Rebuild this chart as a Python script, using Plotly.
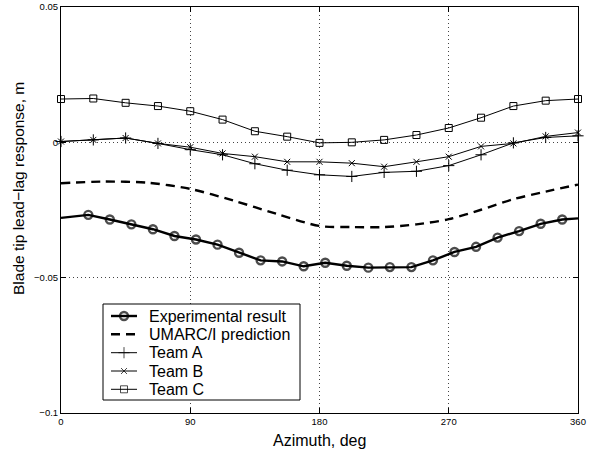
import plotly.graph_objects as go

# ---------------- data ----------------
team_az = [0, 22.5, 45, 67.5, 90, 112.5, 135, 157.5, 180, 202.5, 225, 247.5, 270, 292.5, 315, 337.5, 360]
team_a = [0.0003, 0.0009, 0.0016, -0.0004, -0.0027, -0.0046, -0.0079, -0.0103, -0.0120,
          -0.0126, -0.0111, -0.0107, -0.0086, -0.0046, -0.0002, 0.0018, 0.0024]
team_b = [0.0003, 0.0009, 0.0016, -0.0004, -0.0018, -0.0041, -0.0053, -0.0072, -0.0072,
          -0.0077, -0.0090, -0.0072, -0.0053, -0.0015, -0.0004, 0.0022, 0.0036]
team_c = [0.0160, 0.0162, 0.0146, 0.0134, 0.0115, 0.0084, 0.0041, 0.0021, -0.0002,
          0.0000, 0.0009, 0.0027, 0.0053, 0.0091, 0.0134, 0.0154, 0.0160]

umarc_az = [0, 30, 60, 90, 120, 150, 180, 202.5, 225, 247.5, 270, 292.5, 315, 337.5, 360]
umarc = [-0.0151, -0.0145, -0.0149, -0.0172, -0.0215, -0.0264, -0.0309, -0.0313, -0.0313,
         -0.0303, -0.0284, -0.0249, -0.0210, -0.0182, -0.0156]

exp_az = [0, 19, 34, 49, 64, 79, 94, 109, 124, 139, 154, 169, 184, 199, 214, 229, 244,
          259, 274, 289, 304, 319, 334, 349, 360]
exp_val = [-0.0279, -0.0268, -0.0285, -0.0303, -0.0321, -0.0346, -0.0359, -0.0378, -0.0408,
           -0.0436, -0.0440, -0.0458, -0.0445, -0.0456, -0.0463, -0.0461, -0.0461, -0.0436,
           -0.0405, -0.0386, -0.0352, -0.0328, -0.0301, -0.0285, -0.0281]

x_ticks = [0, 90, 180, 270, 360]
y_ticks = [0.05, 0, -0.05, -0.1]
y_ticklabels = ["0.05", "0", "\u22120.05", "\u22120.1"]

legend_names = ["Experimental result", "UMARC/I prediction", "Team A", "Team B", "Team C"]
x_title = "Azimuth, deg"
y_title = "Blade tip lead\u2212lag response, m"

# ---------------- layout helpers ----------------
W, H = 606, 455
ML, MR, MT, MB = 61, 28, 7, 42
PW, PH = W - ML - MR, H - MT - MB
FONT = "Liberation Sans, Arial, sans-serif"

def px_x(p):
    return (p - ML) / PW

def px_y(p):
    return (H - MB - p) / PH

styles = [
    dict(line=dict(color="black", width=2.4),
         marker=dict(symbol="circle-open", size=8, color="black", line=dict(color="black", width=2.4))),
    dict(line=dict(color="black", width=2.4, dash="9px,6px"), marker=None),
    dict(line=dict(color="black", width=1),
         marker=dict(symbol="cross-thin", size=8, color="black", line=dict(color="black", width=1))),
    dict(line=dict(color="black", width=1),
         marker=dict(symbol="x-thin", size=6, color="black", line=dict(color="black", width=1))),
    dict(line=dict(color="black", width=1),
         marker=dict(symbol="square-open", size=7, color="black", line=dict(color="black", width=1))),
]

fig = go.Figure()

exp_sizes = [0] + [8] * (len(exp_az) - 2) + [0]
m0 = dict(styles[0]["marker"]); m0["size"] = exp_sizes
fig.add_trace(go.Scatter(x=exp_az, y=exp_val, mode="lines+markers", line=styles[0]["line"],
                         marker=m0, showlegend=False, cliponaxis=False))
fig.add_trace(go.Scatter(x=umarc_az, y=umarc, mode="lines",
                         line=dict(styles[1]["line"], shape="spline", smoothing=0.8),
                         showlegend=False))
for vals, st in zip([team_a, team_b, team_c], styles[2:]):
    fig.add_trace(go.Scatter(x=team_az, y=vals, mode="lines+markers", line=st["line"],
                             marker=st["marker"], showlegend=False, cliponaxis=False))

# ---------------- manual legend (MATLAB-style) ----------------
box_l, box_r, box_t, box_b = 103, 300, 304, 400
row_y = [316, 334.3, 352.7, 371, 389.3]
samp_l, samp_r, text_x = 111, 137, 147

fig.add_trace(go.Scatter(
    x=[px_x(box_l), px_x(box_r), px_x(box_r), px_x(box_l), px_x(box_l)],
    y=[px_y(box_t), px_y(box_t), px_y(box_b), px_y(box_b), px_y(box_t)],
    mode="lines", fill="toself", fillcolor="white",
    line=dict(color="black", width=1), xaxis="x2", yaxis="y2",
    showlegend=False, hoverinfo="skip"))
for name, st, ry in zip(legend_names, styles, row_y):
    xs = [px_x(samp_l), px_x((samp_l + samp_r) / 2), px_x(samp_r)]
    ys = [px_y(ry)] * 3
    if st["marker"] is not None:
        mk = dict(st["marker"]); mk["size"] = [0, st["marker"]["size"], 0]
        fig.add_trace(go.Scatter(x=xs, y=ys, mode="lines+markers", line=st["line"], marker=mk,
                                 xaxis="x2", yaxis="y2", showlegend=False, hoverinfo="skip"))
    else:
        fig.add_trace(go.Scatter(x=[xs[0], xs[2]], y=[ys[0], ys[2]], mode="lines", line=st["line"],
                                 xaxis="x2", yaxis="y2", showlegend=False, hoverinfo="skip"))
    fig.add_annotation(x=px_x(text_x), y=px_y(ry), xref="paper", yref="paper",
                       text=name, showarrow=False, xanchor="left", yanchor="middle",
                       font=dict(size=16, family=FONT, color="black"))

# axis titles as annotations for exact placement
fig.add_annotation(x=0.5, y=px_y(440), xref="paper", yref="paper", text=x_title,
                   showarrow=False, xanchor="center", yanchor="middle",
                   font=dict(size=16, family=FONT, color="black"))
fig.add_annotation(x=px_x(18.5), y=px_y(188.5), xref="paper", yref="paper", text=y_title,
                   showarrow=False, xanchor="center", yanchor="middle", textangle=-90,
                   font=dict(size=15.5, family=FONT, color="black"))

axis_common = dict(
    showline=True, linecolor="black", linewidth=1, mirror="ticks",
    ticks="inside", ticklen=5, tickcolor="black",
    showgrid=True, gridcolor="#444444", griddash="1px,3px", gridwidth=1,
    zeroline=False, automargin=False, tickfont=dict(size=9.5),
)

fig.update_layout(
    width=W, height=H,
    margin=dict(l=ML, r=MR, t=MT, b=MB),
    paper_bgcolor="white", plot_bgcolor="white",
    font=dict(family=FONT, color="black", size=9.5),
    showlegend=False,
    xaxis=dict(range=[0, 360], tickvals=x_ticks, ticktext=[str(v) for v in x_ticks], **axis_common),
    yaxis=dict(range=[-0.1, 0.05], tickvals=y_ticks, ticktext=y_ticklabels, **axis_common),
    xaxis2=dict(overlaying="x", range=[0, 1], visible=False, fixedrange=True),
    yaxis2=dict(overlaying="y", range=[0, 1], visible=False, fixedrange=True),
)

fig.write_html("out.html")
